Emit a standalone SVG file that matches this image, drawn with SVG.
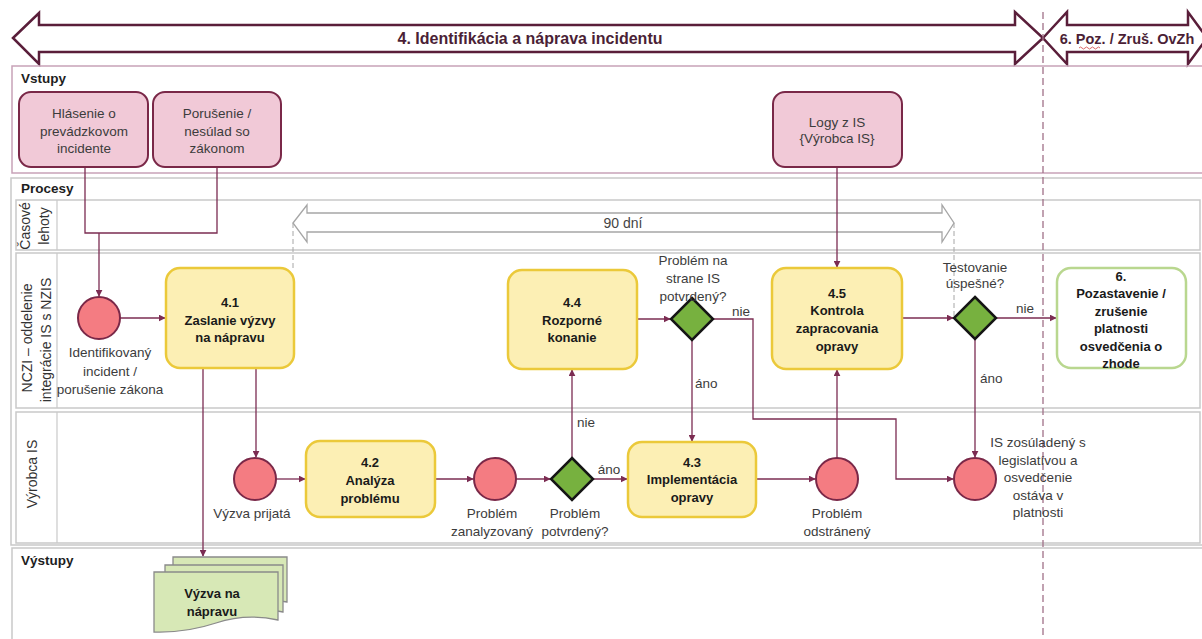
<svg xmlns="http://www.w3.org/2000/svg" width="1202" height="639" viewBox="0 0 1202 639">
<defs>
<marker id="ah" viewBox="0 0 10 10" refX="9" refY="5" markerWidth="7" markerHeight="7" markerUnits="userSpaceOnUse" orient="auto">
<path d="M0,0 L10,5 L0,10 z" fill="#7b2c52"/>
</marker>
<style>
text{font-family:"Liberation Sans",Arial,sans-serif;}
.lbl{font-size:13.5px;fill:#3c3c3c;text-anchor:middle;}
.bt{font-size:13px;font-weight:bold;fill:#1a1a1a;text-anchor:middle;}
.hdr{font-size:13.5px;font-weight:bold;fill:#1e1e1e;}
.lane{fill:none;stroke:#c9c9c9;stroke-width:1.5;}
.rot{font-size:14px;fill:#333;text-anchor:middle;}
.conn{fill:none;stroke:#7b2c52;stroke-width:1.3;marker-end:url(#ah);}
.line{fill:none;stroke:#7b2c52;stroke-width:1.3;}
.task{fill:#fcefb4;stroke:#ebc93a;stroke-width:2.5;}
.inp{fill:#f1c9d7;stroke:#7a2848;stroke-width:2;}
.ev{fill:#f47c82;stroke:#7a2848;stroke-width:2;}
.gw{fill:#77b13f;stroke:#151515;stroke-width:2.5;}
.doc{fill:#d7e8b6;stroke:#8a8a8a;stroke-width:1.3;}
</style>
</defs>

<!-- Banner -->
<g id="banner">
<polygon points="13,38 39,13 39,25 1015,25 1015,12 1043,38 1015,64 1015,52 39,52 39,64" fill="#fff" stroke="#5a1e3a" stroke-width="2.5"/>
<polygon points="1043,38 1067,12 1067,25 1188,25 1188,12 1207,38 1188,64 1188,52 1067,52 1067,64" fill="#fff" stroke="#5a1e3a" stroke-width="2.5"/>
<text x="530" y="44" font-size="16" font-weight="bold" fill="#4b1f36" text-anchor="middle">4. Identifikácia a náprava incidentu</text>
<text x="1127" y="44" font-size="14.5" font-weight="bold" fill="#4b1f36" text-anchor="middle">6. Poz. / Zruš. OvZh</text>
<path d="M1079,48 q1.5,-2 3,0 t3,0 t3,0 t3,0 t3,0 t3,0 t3,0" fill="none" stroke="#d04040" stroke-width="0.8"/>
</g>

<!-- Lanes -->
<g id="lanes">
<rect x="12" y="66" width="1194" height="107" fill="none" stroke="#c8a2b8" stroke-width="1.5"/>
<text class="hdr" x="21" y="83">Vstupy</text>
<rect class="lane" x="11" y="178" width="1195" height="367"/>
<text class="hdr" x="21" y="193">Procesy</text>
<rect class="lane" x="16" y="200" width="1184" height="50"/>
<rect class="lane" x="16" y="253" width="1184" height="155"/>
<rect class="lane" x="16" y="412" width="1184" height="131"/>
<line x1="57" y1="200" x2="57" y2="250" stroke="#c9c9c9" stroke-width="1.2"/>
<line x1="57" y1="253" x2="57" y2="408" stroke="#c9c9c9" stroke-width="1.2"/>
<line x1="57" y1="412" x2="57" y2="543" stroke="#c9c9c9" stroke-width="1.2"/>
<text class="rot" transform="translate(30,226) rotate(-90)">Časové</text>
<text class="rot" transform="translate(49,226) rotate(-90)">lehoty</text>
<text class="rot" transform="translate(32,338) rotate(-90)">NCZI – oddelenie</text>
<text class="rot" transform="translate(51,340) rotate(-90)">integrácie IS s NZIS</text>
<text class="rot" transform="translate(37,474) rotate(-90)">Výrobca IS</text>
<rect class="lane" x="12" y="548" width="1194" height="100"/>
<text class="hdr" x="21" y="565">Výstupy</text>
</g>

<!-- Time span -->
<g id="timespan">
<polygon points="293,223 307,205 307,213 942,213 942,205 954,223 942,242 942,232 307,232 307,242" fill="#fff" stroke="#a6a6a6" stroke-width="1.3"/>
<text x="623" y="228" font-size="14" fill="#444" text-anchor="middle">90 dní</text>
<line x1="293" y1="223" x2="293" y2="268" stroke="#a6a6a6" stroke-width="1" stroke-dasharray="5,3"/>
<line x1="954" y1="223" x2="954" y2="318" stroke="#a6a6a6" stroke-width="1" stroke-dasharray="5,3"/>
</g>

<line x1="1043" y1="12" x2="1043" y2="639" stroke="#a07088" stroke-width="1.3" stroke-dasharray="7,4"/>

<!-- Connectors -->
<g id="connectors">
<path class="line" d="M85,167 V233 H217 V167"/>
<path class="conn" d="M99,233 V296"/>
<path class="conn" d="M120,318 H165"/>
<path class="conn" d="M256,368 V457"/>
<path class="conn" d="M203,368 V556"/>
<path class="conn" d="M276,479 H305"/>
<path class="conn" d="M435,479 H473"/>
<path class="conn" d="M516,479 H550"/>
<path class="conn" d="M593,479 H627"/>
<path class="conn" d="M572,458 V370"/>
<path class="conn" d="M637,319 H670"/>
<path class="conn" d="M692,340 V441"/>
<path class="conn" d="M713,319 H753 V419 H896 V479 H953"/>
<path class="conn" d="M756,479 H815"/>
<path class="conn" d="M837,458 V370"/>
<path class="conn" d="M837,167 V267"/>
<path class="conn" d="M902,318 H953"/>
<path class="conn" d="M996,318 H1056"/>
<path class="conn" d="M975,339 V457"/>
<text x="741" y="316" font-size="13.5" fill="#3c3c3c" text-anchor="middle">nie</text>
<text x="695" y="388" font-size="13.5" fill="#3c3c3c">áno</text>
<text x="577" y="427" font-size="13.5" fill="#3c3c3c">nie</text>
<text x="609" y="474" font-size="13.5" fill="#3c3c3c" text-anchor="middle">áno</text>
<text x="1025" y="313" font-size="13.5" fill="#3c3c3c" text-anchor="middle">nie</text>
<text x="980" y="383" font-size="13.5" fill="#3c3c3c">áno</text>
</g>

<!-- Inputs -->
<g id="in1">
<rect class="inp" x="19" y="92" width="129" height="75" rx="12"/>
<text class="lbl" x="84" y="117.5">Hlásenie o</text>
<text class="lbl" x="84" y="135.5">prevádzkovom</text>
<text class="lbl" x="84" y="152.5">incidente</text>
</g>
<g id="in2">
<rect class="inp" x="153" y="92" width="128" height="75" rx="12"/>
<text class="lbl" x="217" y="117.5">Porušenie /</text>
<text class="lbl" x="217" y="135.5">nesúlad so</text>
<text class="lbl" x="217" y="152.5">zákonom</text>
</g>
<g id="in3">
<rect class="inp" x="773" y="92" width="129" height="75" rx="12"/>
<text class="lbl" x="837" y="126.5">Logy z IS</text>
<text class="lbl" x="837" y="143">{Výrobca IS}</text>
</g>

<!-- Events -->
<g id="ev-start">
<circle class="ev" cx="99" cy="318" r="21"/>
<text class="lbl" x="110" y="357">Identifikovaný</text>
<text class="lbl" x="110" y="376">incident /</text>
<text class="lbl" x="110" y="394">porušenie zákona</text>
</g>
<g id="ev-prijata">
<circle class="ev" cx="255" cy="479" r="21"/>
<text class="lbl" x="252" y="517.5">Výzva prijatá</text>
</g>
<g id="ev-zanalyzovany">
<circle class="ev" cx="495" cy="479" r="21"/>
<text class="lbl" x="492" y="517.5">Problém</text>
<text class="lbl" x="492" y="535.5">zanalyzovaný</text>
</g>
<g id="ev-odstraneny">
<circle class="ev" cx="837" cy="479" r="21"/>
<text class="lbl" x="837" y="517.5">Problém</text>
<text class="lbl" x="837" y="535.5">odstránený</text>
</g>
<g id="ev-end">
<circle class="ev" cx="975" cy="479" r="21"/>
<text class="lbl" x="1038" y="446.5">IS zosúladený s</text>
<text class="lbl" x="1038" y="464.5">legislatívou a</text>
<text class="lbl" x="1038" y="481.5">osvedčenie</text>
<text class="lbl" x="1038" y="499.5">ostáva v</text>
<text class="lbl" x="1038" y="516.5">platnosti</text>
</g>

<!-- Tasks -->
<g id="t41">
<rect class="task" x="166" y="268" width="128" height="100" rx="14"/>
<text class="bt" x="230" y="307">4.1</text>
<text class="bt" x="230" y="324.5">Zaslanie výzvy</text>
<text class="bt" x="230" y="341.5">na nápravu</text>
</g>
<g id="t44">
<rect class="task" x="508" y="270" width="129" height="99" rx="14"/>
<text class="bt" x="572" y="307">4.4</text>
<text class="bt" x="572" y="324.5">Rozporné</text>
<text class="bt" x="572" y="341.5">konanie</text>
</g>
<g id="t45">
<rect class="task" x="772" y="268" width="130" height="101" rx="14"/>
<text class="bt" x="837" y="297.5">4.5</text>
<text class="bt" x="837" y="315">Kontrola</text>
<text class="bt" x="837" y="332.5">zapracovania</text>
<text class="bt" x="837" y="350.5">opravy</text>
</g>
<g id="t42">
<rect class="task" x="306" y="441" width="129" height="76" rx="14"/>
<text class="bt" x="370" y="466.5">4.2</text>
<text class="bt" x="370" y="484.5">Analýza</text>
<text class="bt" x="370" y="502.5">problému</text>
</g>
<g id="t43">
<rect class="task" x="628" y="442" width="128" height="75" rx="14"/>
<text class="bt" x="692" y="466.5">4.3</text>
<text class="bt" x="692" y="483.5">Implementácia</text>
<text class="bt" x="692" y="501.5">opravy</text>
</g>
<g id="t6">
<rect x="1057" y="268" width="129" height="100" rx="14" fill="#fff" stroke="#b9d78f" stroke-width="2.5"/>
<text class="bt" x="1121" y="281">6.</text>
<text class="bt" x="1121" y="298">Pozastavenie /</text>
<text class="bt" x="1121" y="315.5">zrušenie</text>
<text class="bt" x="1121" y="333">platnosti</text>
<text class="bt" x="1121" y="350.5">osvedčenia o</text>
<text class="bt" x="1121" y="368">zhode</text>
</g>

<!-- Gateways -->
<g id="gw1">
<polygon class="gw" points="692,298 713,319 692,340 671,319"/>
<text class="lbl" x="693" y="264.5">Problém na</text>
<text class="lbl" x="693" y="282.5">strane IS</text>
<text class="lbl" x="693" y="301">potvrdený?</text>
</g>
<g id="gw2">
<polygon class="gw" points="975,297 996,318 975,339 954,318"/>
<text class="lbl" x="975" y="271.5">Testovanie</text>
<text class="lbl" x="975" y="288">úspešné?</text>
</g>
<g id="gw3">
<polygon class="gw" points="572,458 593,479 572,500 551,479"/>
<text class="lbl" x="575" y="517.5">Problém</text>
<text class="lbl" x="575" y="535.5">potvrdený?</text>
</g>

<!-- Output document -->
<g id="out-doc">
<path class="doc" d="M173,557 H287 V602 Q258,596 230,604 T173,607 Z"/>
<path class="doc" d="M165,565 H283 V612 Q253,605 224,613 T165,617 Z"/>
<path class="doc" d="M154,572 H278 V620 Q246,613 216,623 T154,632 Z"/>
<text class="bt" x="212" y="598">Výzva na</text>
<text class="bt" x="212" y="616">nápravu</text>
</g>
</svg>
